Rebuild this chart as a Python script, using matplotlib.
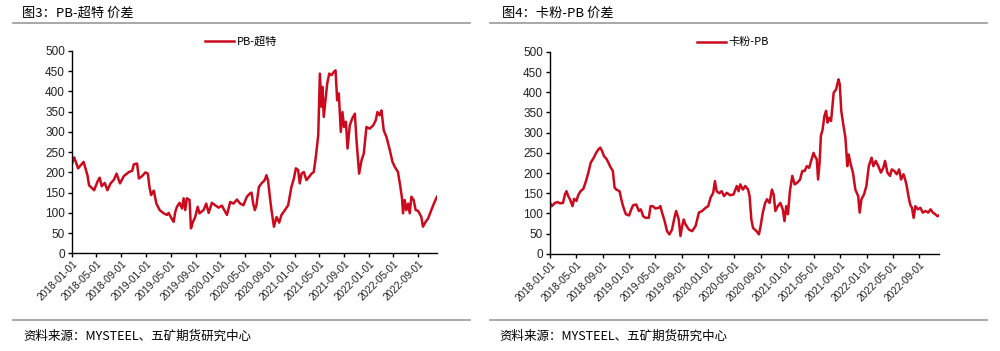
import pandas as pd
import matplotlib.pyplot as plt
import matplotlib.dates as mdates
from matplotlib.lines import Line2D

plt.rcParams['font.family'] = ['Liberation Sans', 'Noto Sans CJK SC']

# PB-超特 价差
pb_dates = ['2018-01-01', '2018-01-12', '2018-01-31', '2018-02-27', '2018-03-18', '2018-03-26',
            '2018-04-20', '2018-05-06', '2018-05-17', '2018-05-27', '2018-06-11', '2018-06-24',
            '2018-07-10', '2018-07-26', '2018-08-08', '2018-08-25', '2018-09-13', '2018-10-08',
            '2018-10-24', '2018-11-01', '2018-11-17', '2018-11-26', '2018-12-12', '2018-12-28',
            '2019-01-09', '2019-01-17', '2019-01-25', '2019-02-07', '2019-02-20', '2019-03-08',
            '2019-03-28', '2019-04-13', '2019-04-21', '2019-05-08', '2019-05-16', '2019-05-24',
            '2019-06-01', '2019-06-14', '2019-06-26', '2019-07-04', '2019-07-12', '2019-07-20',
            '2019-08-02', '2019-08-09', '2019-08-19', '2019-08-30', '2019-09-11', '2019-09-20',
            '2019-10-10', '2019-10-23', '2019-11-04', '2019-11-20', '2019-12-06', '2019-12-23',
            '2020-01-08', '2020-02-02', '2020-02-18', '2020-03-05', '2020-03-22', '2020-04-07',
            '2020-04-23', '2020-05-10', '2020-05-25', '2020-06-02', '2020-06-10', '2020-06-18',
            '2020-06-26', '2020-07-08', '2020-07-21', '2020-08-06', '2020-08-14', '2020-08-22',
            '2020-08-31', '2020-09-08', '2020-09-20', '2020-10-03', '2020-10-16', '2020-10-27',
            '2020-11-13', '2020-11-29', '2020-12-15', '2020-12-27', '2021-01-06', '2021-01-17',
            '2021-01-25', '2021-02-03', '2021-02-14', '2021-02-27', '2021-03-12', '2021-03-24',
            '2021-04-04', '2021-04-14', '2021-04-26', '2021-05-04', '2021-05-12', '2021-05-17',
            '2021-05-23', '2021-06-02', '2021-06-09', '2021-06-19', '2021-06-30', '2021-07-08',
            '2021-07-20', '2021-07-28', '2021-08-05', '2021-08-15', '2021-08-23', '2021-08-31',
            '2021-09-09', '2021-09-17', '2021-09-28', '2021-10-10', '2021-10-23', '2021-10-31',
            '2021-11-13', '2021-11-25', '2021-12-06', '2021-12-19', '2022-01-04', '2022-01-21',
            '2022-02-03', '2022-02-11', '2022-02-22', '2022-03-03', '2022-03-14', '2022-03-27',
            '2022-04-13', '2022-04-26', '2022-05-07', '2022-05-23', '2022-06-04', '2022-06-12',
            '2022-06-17', '2022-06-25', '2022-07-03', '2022-07-12', '2022-07-20', '2022-07-28',
            '2022-08-08', '2022-08-18', '2022-08-30', '2022-09-15', '2022-09-23', '2022-10-06',
            '2022-10-18', '2022-11-03', '2022-11-19', '2022-12-01']
pb_values = [222, 237, 210, 226, 193, 168,
             156, 177, 187, 166, 174, 156,
             173, 182, 197, 173, 191, 201,
             204, 220, 222, 185, 191, 200,
             197, 164, 144, 155, 123, 107,
             99, 95, 100, 84, 78, 103,
             115, 125, 111, 136, 107, 136,
             132, 62, 78, 90, 115, 99,
             107, 123, 100, 125, 119, 113,
             118, 95, 127, 123, 133, 123,
             119, 140, 148, 150, 123, 107,
             119, 164, 173, 181, 193, 181,
             140, 107, 66, 90, 76, 95,
             107, 119, 164, 185, 210, 206,
             173, 197, 201, 181, 189, 197,
             201, 238, 292, 444, 362, 411,
             337, 386, 419, 444, 440, 446,
             452, 378, 395, 300, 349, 312,
             325, 259, 316, 333, 345, 280,
             197, 230, 247, 312, 308, 316,
             329, 349, 341, 353, 304, 288,
             255, 226, 214, 201, 164, 136,
             99, 132, 107, 123, 99, 140,
             132, 107, 105, 90, 66, 78,
             86, 107, 127, 140]

# 卡粉-PB 价差
kf_dates = ['2018-01-01', '2018-01-09', '2018-01-24', '2018-02-05', '2018-02-16', '2018-03-02',
            '2018-03-11', '2018-03-18', '2018-03-26', '2018-04-03', '2018-04-15', '2018-04-22',
            '2018-05-03', '2018-05-11', '2018-05-22', '2018-06-04', '2018-06-16', '2018-06-27',
            '2018-07-08', '2018-07-20', '2018-08-02', '2018-08-13', '2018-08-21', '2018-08-29',
            '2018-09-07', '2018-09-20', '2018-10-05', '2018-10-18', '2018-10-26', '2018-11-03',
            '2018-11-18', '2018-11-26', '2018-12-04', '2018-12-17', '2019-01-01', '2019-01-11',
            '2019-01-19', '2019-02-03', '2019-02-15', '2019-02-24', '2019-03-07', '2019-03-18',
            '2019-04-02', '2019-04-10', '2019-04-20', '2019-05-03', '2019-05-18', '2019-05-25',
            '2019-06-02', '2019-06-14', '2019-06-25', '2019-07-06', '2019-07-18', '2019-07-29',
            '2019-08-06', '2019-08-18', '2019-08-26', '2019-09-03', '2019-09-10', '2019-09-18',
            '2019-10-04', '2019-10-19', '2019-11-04', '2019-11-19', '2019-12-04', '2019-12-20',
            '2020-01-01', '2020-01-12', '2020-01-24', '2020-02-01', '2020-02-09', '2020-02-21',
            '2020-03-03', '2020-03-14', '2020-03-27', '2020-04-11', '2020-04-27', '2020-05-12',
            '2020-05-20', '2020-05-28', '2020-06-09', '2020-06-20', '2020-07-03', '2020-07-10',
            '2020-07-18', '2020-07-26', '2020-08-11', '2020-08-22', '2020-08-30', '2020-09-09',
            '2020-09-20', '2020-09-28', '2020-10-10', '2020-10-21', '2020-10-29', '2020-11-06',
            '2020-11-17', '2020-11-29', '2020-12-10', '2020-12-18', '2020-12-26', '2021-01-03',
            '2021-01-12', '2021-01-23', '2021-02-03', '2021-02-15', '2021-02-28', '2021-03-10',
            '2021-03-21', '2021-03-31', '2021-04-11', '2021-04-22', '2021-05-01', '2021-05-07',
            '2021-05-16', '2021-05-22', '2021-05-29', '2021-06-04', '2021-06-12', '2021-06-20',
            '2021-06-28', '2021-07-05', '2021-07-13', '2021-07-21', '2021-08-02', '2021-08-13',
            '2021-08-24', '2021-08-30', '2021-09-06', '2021-09-14', '2021-09-25', '2021-10-04',
            '2021-10-10', '2021-10-20', '2021-10-30', '2021-11-10', '2021-11-23', '2021-11-30',
            '2021-12-08', '2021-12-20', '2021-12-31', '2022-01-11', '2022-01-24', '2022-02-01',
            '2022-02-12', '2022-02-24', '2022-03-08', '2022-03-19', '2022-03-27', '2022-04-07',
            '2022-04-19', '2022-04-27', '2022-05-09', '2022-05-20', '2022-05-31', '2022-06-09',
            '2022-06-20', '2022-06-28', '2022-07-05', '2022-07-13', '2022-07-21', '2022-07-29',
            '2022-08-06', '2022-08-14', '2022-08-26', '2022-09-06', '2022-09-17', '2022-09-30',
            '2022-10-12', '2022-10-23', '2022-11-03', '2022-11-14', '2022-11-24', '2022-12-01']
kf_values = [126, 118, 126, 128, 125, 126,
             147, 155, 143, 135, 118, 136,
             131, 145, 155, 161, 180, 201,
             226, 236, 250, 259, 263, 255,
             242, 234, 217, 205, 164, 159,
             155, 135, 118, 98, 95, 110,
             120, 122, 106, 110, 93, 89,
             89, 118, 118, 112, 114, 118,
             102, 81, 56, 48, 60, 89,
             106, 85, 44, 69, 85, 73,
             60, 56, 69, 102, 106, 114,
             118, 139, 151, 180, 155, 150,
             155, 143, 151, 145, 147, 168,
             155, 172, 159, 168, 159, 143,
             85, 64, 56, 48, 69, 102,
             126, 135, 126, 159, 147, 106,
             118, 126, 110, 81, 118, 98,
             155, 193, 172, 176, 184, 205,
             205, 217, 213, 234, 250, 242,
             234, 184, 226, 292, 308, 341,
             354, 325, 337, 329, 399, 407,
             432, 420, 354, 325, 288, 217,
             246, 221, 201, 159, 143, 102,
             135, 147, 168, 217, 238, 217,
             230, 217, 201, 213, 230, 201,
             193, 209, 205, 197, 209, 184,
             197, 184, 168, 143, 122, 114,
             89, 118, 110, 114, 102, 106,
             102, 110, 102, 98, 93, 95]

line_color = '#CC0A1E'
x_ticks = pd.date_range('2018-01-01', '2022-09-01', freq='4MS')

fig = plt.figure(figsize=(10, 3.51), dpi=100)


def draw_panel(rect, dates, values, label, legend_xy):
    ax = fig.add_axes(rect)
    ax.plot(pd.to_datetime(dates), values, color=line_color, linewidth=1.8, label=label)
    ax.set_xlim(pd.Timestamp('2018-01-01'), pd.Timestamp('2022-12-01'))
    ax.set_ylim(0, 500)
    ax.set_yticks(range(0, 501, 50))
    ax.set_xticks(x_ticks)
    ax.xaxis.set_major_formatter(mdates.DateFormatter('%Y-%m-%d'))
    for s in ['top', 'right']:
        ax.spines[s].set_visible(False)
    for s in ['left', 'bottom']:
        ax.spines[s].set_linewidth(1.0)
    ax.tick_params(axis='y', direction='out', length=3, width=1, labelsize=8.5,
                   labelcolor='#222222', pad=2)
    ax.tick_params(axis='x', direction='out', length=3, width=1, labelsize=7.3,
                   labelcolor='#222222', pad=1)
    for t in ax.get_xticklabels():
        t.set_rotation(45)
        t.set_ha('right')
        t.set_rotation_mode('anchor')
    handle = Line2D([], [], color=line_color, linewidth=1.8)
    ax.legend([handle], [label], loc='center', bbox_to_anchor=legend_xy,
              bbox_transform=fig.transFigure, frameon=False, handlelength=2.6,
              handletextpad=0.3, prop={'family': ['Noto Sans CJK SC'], 'size': 8})
    return ax


draw_panel([0.072, 0.278, 0.365, 0.577], pb_dates, pb_values, 'PB-超特', (0.241, 0.881))
draw_panel([0.550, 0.277, 0.389, 0.575], kf_dates, kf_values, '卡粉-PB', (0.733, 0.879))

cjk = ['Noto Sans CJK SC', 'DejaVu Sans']
fig.text(0.022, 1 - 13 / 351, '图3：PB-超特 价差', fontsize=9.5, family=cjk, va='center')
fig.text(0.502, 1 - 13 / 351, '图4：卡粉-PB 价差', fontsize=9.5, family=cjk, va='center')
fig.text(0.023, 1 - 336 / 351, '资料来源：MYSTEEL、五矿期货研究中心', fontsize=9, family=cjk, va='center')
fig.text(0.499, 1 - 336 / 351, '资料来源：MYSTEEL、五矿期货研究中心', fontsize=9, family=cjk, va='center')

for x0, x1 in [(0.013, 0.470), (0.490, 0.987)]:
    for yy in [1 - 22.5 / 351, 1 - 320 / 351]:
        fig.add_artist(Line2D([x0, x1], [yy, yy], color='#999999', linewidth=1.2,
                              transform=fig.transFigure))

plt.savefig('out.png', dpi=100)
